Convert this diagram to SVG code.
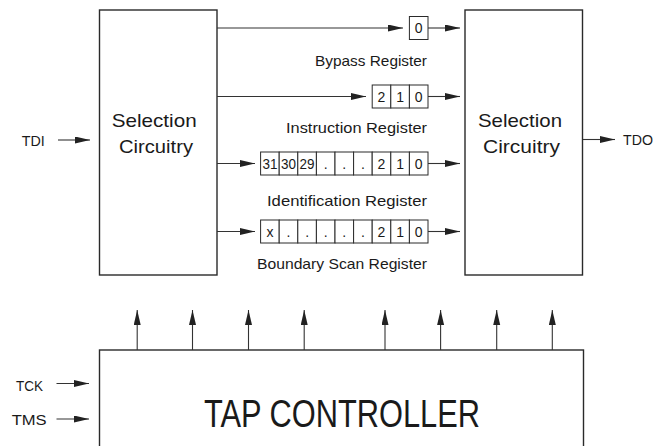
<svg xmlns="http://www.w3.org/2000/svg" width="655" height="446" viewBox="0 0 655 446">
<defs>
<marker id="ah" markerUnits="userSpaceOnUse" markerWidth="16" markerHeight="8" refX="15" refY="3.5" orient="auto">
<path d="M0,0 L15,3.5 L0,7 z" fill="#222"/>
</marker>
<style>
.box{fill:#fff;stroke:#2a2a2a;stroke-width:1.4}
.cell{fill:#fff;stroke:#2a2a2a;stroke-width:1}
.ln{fill:none;stroke:#333;stroke-width:1.1;marker-end:url(#ah)}
text{font-family:"Liberation Sans",Arial,sans-serif;fill:#1a1a1a}
.big{font-size:19px}
.lbl{font-size:15px;text-anchor:end}
.d{font-size:14px;text-anchor:middle}
.io{font-size:14px}
</style>
</defs>
<rect width="655" height="446" fill="#fff"/>

<g id="sel-left">
<rect class="box" x="99.5" y="10" width="117.5" height="265"/>
<text class="big" x="111.7" y="127" textLength="85" lengthAdjust="spacingAndGlyphs">Selection</text>
<text class="big" x="119" y="153" textLength="74" lengthAdjust="spacingAndGlyphs">Circuitry</text>
</g>

<g id="sel-right">
<rect class="box" x="465" y="10" width="117.5" height="265"/>
<text class="big" x="478" y="127" textLength="84" lengthAdjust="spacingAndGlyphs">Selection</text>
<text class="big" x="483" y="153" textLength="77" lengthAdjust="spacingAndGlyphs">Circuitry</text>
</g>

<g id="bypass">
<rect class="cell" x="409.4" y="16.5" width="18.6" height="23"/>
<text class="d" x="418.7" y="33">0</text>
<text class="lbl" x="427" y="65.5" textLength="112" lengthAdjust="spacingAndGlyphs">Bypass Register</text>
</g>

<g id="instruction">
<rect class="cell" x="372.2" y="85" width="18.6" height="23"/>
<rect class="cell" x="390.8" y="85" width="18.6" height="23"/>
<rect class="cell" x="409.4" y="85" width="18.6" height="23"/>
<text class="d" x="381.5" y="101.5">2</text>
<text class="d" x="400.1" y="101.5">1</text>
<text class="d" x="418.7" y="101.5">0</text>
<text class="lbl" x="427" y="133" textLength="141" lengthAdjust="spacingAndGlyphs">Instruction Register</text>
</g>

<g id="identification">
<rect class="cell" x="260.6" y="152" width="18.6" height="23"/>
<rect class="cell" x="279.2" y="152" width="18.6" height="23"/>
<rect class="cell" x="297.8" y="152" width="18.6" height="23"/>
<rect class="cell" x="316.4" y="152" width="18.6" height="23"/>
<rect class="cell" x="335" y="152" width="18.6" height="23"/>
<rect class="cell" x="353.6" y="152" width="18.6" height="23"/>
<rect class="cell" x="372.2" y="152" width="18.6" height="23"/>
<rect class="cell" x="390.8" y="152" width="18.6" height="23"/>
<rect class="cell" x="409.4" y="152" width="18.6" height="23"/>
<text class="d" x="269.9" y="168.5" textLength="15" lengthAdjust="spacingAndGlyphs">31</text>
<text class="d" x="288.5" y="168.5" textLength="15" lengthAdjust="spacingAndGlyphs">30</text>
<text class="d" x="307.1" y="168.5" textLength="15" lengthAdjust="spacingAndGlyphs">29</text>
<text class="d" x="325.7" y="168.5">.</text>
<text class="d" x="344.3" y="168.5">.</text>
<text class="d" x="362.9" y="168.5">.</text>
<text class="d" x="381.5" y="168.5">2</text>
<text class="d" x="400.1" y="168.5">1</text>
<text class="d" x="418.7" y="168.5">0</text>
<text class="lbl" x="427" y="206" textLength="160" lengthAdjust="spacingAndGlyphs">Identification Register</text>
</g>

<g id="boundary-scan">
<rect class="cell" x="260.6" y="220" width="18.6" height="23"/>
<rect class="cell" x="279.2" y="220" width="18.6" height="23"/>
<rect class="cell" x="297.8" y="220" width="18.6" height="23"/>
<rect class="cell" x="316.4" y="220" width="18.6" height="23"/>
<rect class="cell" x="335" y="220" width="18.6" height="23"/>
<rect class="cell" x="353.6" y="220" width="18.6" height="23"/>
<rect class="cell" x="372.2" y="220" width="18.6" height="23"/>
<rect class="cell" x="390.8" y="220" width="18.6" height="23"/>
<rect class="cell" x="409.4" y="220" width="18.6" height="23"/>
<text class="d" x="269.9" y="236.5">x</text>
<text class="d" x="288.5" y="236.5">.</text>
<text class="d" x="307.1" y="236.5">.</text>
<text class="d" x="325.7" y="236.5">.</text>
<text class="d" x="344.3" y="236.5">.</text>
<text class="d" x="362.9" y="236.5">.</text>
<text class="d" x="381.5" y="236.5">2</text>
<text class="d" x="400.1" y="236.5">1</text>
<text class="d" x="418.7" y="236.5">0</text>
<text class="lbl" x="427" y="269" textLength="170" lengthAdjust="spacingAndGlyphs">Boundary Scan Register</text>
</g>

<g id="tap-controller">
<rect class="box" x="99.5" y="350" width="484" height="110"/>
<text x="204" y="427" font-size="38" textLength="276" lengthAdjust="spacingAndGlyphs">TAP CONTROLLER</text>
</g>

<g id="tdi"><text class="io" x="21.7" y="146" textLength="23" lengthAdjust="spacingAndGlyphs">TDI</text></g>
<g id="tdo"><text class="io" x="623" y="145" textLength="30" lengthAdjust="spacingAndGlyphs">TDO</text></g>
<g id="tck"><text class="io" x="16" y="390.5" textLength="27" lengthAdjust="spacingAndGlyphs">TCK</text></g>
<g id="tms"><text class="io" x="11.7" y="425" textLength="35" lengthAdjust="spacingAndGlyphs">TMS</text></g>

<g id="connectors">
<path class="ln" d="M217,28 H403"/>
<path class="ln" d="M428,28 H460"/>
<path class="ln" d="M217,96.5 H366"/>
<path class="ln" d="M428,96.5 H460"/>
<path class="ln" d="M217,163.5 H255"/>
<path class="ln" d="M428,163.5 H460"/>
<path class="ln" d="M217,231.5 H255"/>
<path class="ln" d="M428,231.5 H460"/>
<path class="ln" d="M58,140 H90"/>
<path class="ln" d="M583,139.5 H615"/>
<path class="ln" d="M56.5,383.5 H89"/>
<path class="ln" d="M56.5,419 H89"/>
<path class="ln" d="M137.2,350 V310"/>
<path class="ln" d="M192.5,350 V310"/>
<path class="ln" d="M248.5,350 V310"/>
<path class="ln" d="M304.2,350 V310"/>
<path class="ln" d="M385,350 V310"/>
<path class="ln" d="M440.6,350 V310"/>
<path class="ln" d="M496.7,350 V310"/>
<path class="ln" d="M552.3,350 V310"/>
</g>
</svg>
